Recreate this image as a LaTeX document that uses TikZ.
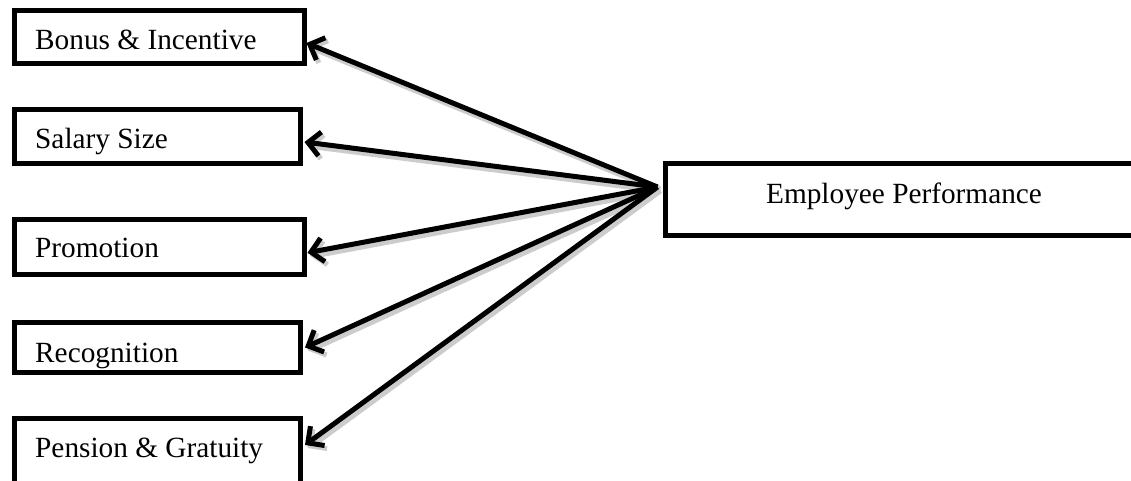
\documentclass[tikz,border=0pt]{standalone}
\usepackage{fontspec}
\setmainfont{Liberation Serif}
\usetikzlibrary{arrows.meta}
\begin{document}
\begin{tikzpicture}[x=1pt,y=-1pt,
  box/.style={draw=black, line width=5pt, inner sep=0pt, rectangle},
  lbl/.style={anchor=base west, inner sep=0pt, font=\fontsize{29.3}{34}\selectfont},
  arr/.style={line width=5pt, -{Straight Barb[length=12pt,width=24pt,line width=5pt]},
    preaction={draw=black!20, line width=7pt, transform canvas={shift={(2.5pt,-3pt)}}}}]
\useasboundingbox (0,0) rectangle (1131,481);
\clip (0,0) rectangle (1131,481);
% left boxes
\node[box, minimum width=290pt, minimum height=53pt] (b1) at (159,37.5) {};
\node[box, minimum width=286.5pt, minimum height=54pt] (b2) at (157.25,136.5) {};
\node[box, minimum width=290pt, minimum height=55.5pt] (b3) at (159,246.75) {};
\node[box, minimum width=286.5pt, minimum height=50pt] (b4) at (157.25,347.5) {};
\node[box, minimum width=286.5pt, minimum height=65pt] (b5) at (157.25,450.5) {};
% right box
\node[box, minimum width=480pt, minimum height=71pt] (emp) at (905,199.5) {};
% labels
\node[lbl] (t1) at (35,50) {Bonus \& Incentive};
\node[lbl] (t2) at (35,149) {Salary Size};
\node[lbl] (t3) at (35,257) {Promotion};
\begin{scope}
  \clip (16,325) rectangle (298,368);
  \node[lbl] (t4) at (35,362) {Recognition};
\end{scope}
\node[lbl] (t5) at (35,457) {Pension \& Gratuity};
\node[lbl, anchor=base] (te) at (904,203) {Employee Performance};
% connectors
\coordinate (src) at ([xshift=-5pt,yshift=12.5pt]emp.west);
\draw[arr] (src) -- ([yshift=-5.5pt]b1.east);
\draw[arr] (src) -- ([yshift=-5.5pt,xshift=1.5pt]b2.east);
\draw[arr] (src) -- ([yshift=-6pt,xshift=1pt]b3.east);
\draw[arr] (src) -- ([xshift=2pt]b4.east);
\draw[arr] (src) -- ([yshift=5.5pt,xshift=2pt]b5.east);
\end{tikzpicture}
\end{document}
